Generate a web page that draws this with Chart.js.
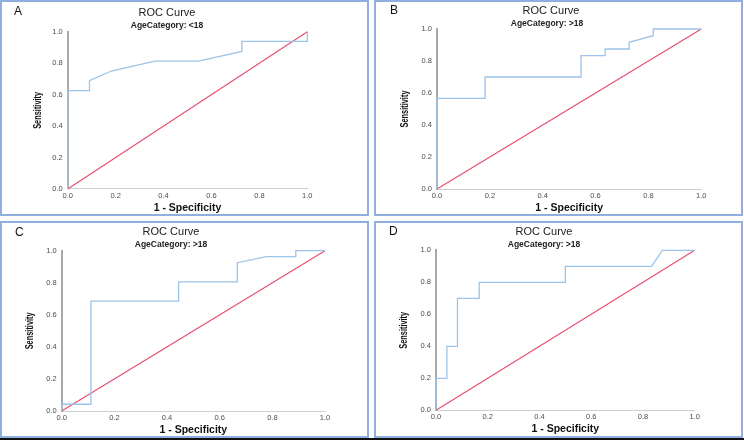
<!DOCTYPE html>
<html>
<head>
<meta charset="utf-8">
<script src="https://cdn.jsdelivr.net/npm/chart.js@4.4.1/dist/chart.umd.min.js"></script>
<style>
  body { margin: 0; background: #fff; }
  #page { position: relative; width: 744px; height: 440px; overflow: hidden; }
  .panel { position: absolute; box-sizing: border-box; border: 2px solid #8fb0df; }
  canvas { position: absolute; }
  #baseline { position: absolute; left: 0; top: 438px; width: 744px; height: 2px; background: #111; }
</style>
</head>
<body>
<div id="page">
  <div class="panel" style="left:0;top:0;width:369px;height:216px"></div>
  <div class="panel" style="left:374px;top:0;width:369px;height:216px"></div>
  <div class="panel" style="left:0;top:221px;width:369px;height:217px"></div>
  <div class="panel" style="left:374px;top:221px;width:369px;height:217px"></div>
  <div id="baseline"></div>
  <canvas id="chartA"></canvas>
  <canvas id="chartB"></canvas>
  <canvas id="chartC"></canvas>
  <canvas id="chartD"></canvas>
</div>
<script>
// ROC points (1 - specificity, sensitivity)
const fprA = [0, 0, 0.091, 0.091, 0.182, 0.364, 0.545, 0.727, 0.727, 1, 1];
const tprA = [0, 0.625, 0.625, 0.688, 0.75, 0.813, 0.813, 0.875, 0.938, 0.938, 1];

const fprB = [0, 0, 0.182, 0.182, 0.545, 0.545, 0.636, 0.636, 0.727, 0.727, 0.818, 0.818, 1];
const tprB = [0, 0.567, 0.567, 0.70, 0.70, 0.833, 0.833, 0.875, 0.875, 0.917, 0.958, 1, 1];

const fprC = [0, 0, 0.111, 0.111, 0.444, 0.444, 0.667, 0.667, 0.778, 0.889, 0.889, 1];
const tprC = [0, 0.042, 0.042, 0.686, 0.686, 0.805, 0.805, 0.925, 0.963, 0.963, 1, 1];

const fprD = [0, 0, 0.042, 0.042, 0.083, 0.083, 0.167, 0.167, 0.5, 0.5, 0.833, 0.875, 1];
const tprD = [0, 0.2, 0.2, 0.4, 0.4, 0.7, 0.7, 0.8, 0.8, 0.9, 0.9, 1, 1];

// reference diagonal
const refX = [0, 1];
const refY = [0, 1];

const axisTicks = [0, 0.2, 0.4, 0.6, 0.8, 1.0];
const panelLetters = ['A', 'B', 'C', 'D'];
const chartTitle = 'ROC Curve';
const subTitles = ['AgeCategory: <18', 'AgeCategory: >18', 'AgeCategory: >18', 'AgeCategory: >18'];
const xTitle = '1 - Specificity';
const yTitle = 'Sensitivity';

const rocColor = '#9cc3e9';
const refColor = '#e8506f';
const FONT = "'Liberation Sans', Arial, sans-serif";

// page layout of each panel (box, plot area, text spots)
const layouts = [
  { box: [0, 0, 369, 216], plot: [67.7, 307.3, 31.7, 189], xTitleY: 208, yTitleX: 38.5,
    letter: [14, 12], title: [167, 13], sub: [167, 26] },
  { box: [374, 0, 369, 216], plot: [437, 701.3, 29, 189], xTitleY: 208, yTitleX: 405,
    letter: [390, 11], title: [551, 11], sub: [547, 24] },
  { box: [0, 221, 369, 217], plot: [61.7, 325, 250.7, 411], xTitleY: 430.5, yTitleX: 30,
    letter: [15, 233], title: [171, 232], sub: [171, 245] },
  { box: [374, 221, 369, 217], plot: [436, 694.7, 250.3, 410.3], xTitleY: 429.5, yTitleX: 404,
    letter: [389, 232], title: [544, 232], sub: [544, 245] }
];

const headerPlugin = {
  id: 'header',
  afterDraw(chart, args, opts) {
    const {ctx, chartArea} = chart;
    ctx.save();
    ctx.textBaseline = 'middle';
    ctx.fillStyle = '#111';
    ctx.textAlign = 'left';
    ctx.font = '12px ' + FONT;
    ctx.fillText(opts.letter, opts.letterPos[0], opts.letterPos[1]);
    ctx.textAlign = 'center';
    ctx.fillStyle = '#222';
    ctx.font = '11px ' + FONT;
    ctx.fillText(opts.title, opts.titlePos[0], opts.titlePos[1]);
    ctx.font = 'bold 8.5px ' + FONT;
    ctx.fillText(opts.sub, opts.subPos[0], opts.subPos[1]);

    // condensed, rotated y axis title
    ctx.fillStyle = '#111';
    ctx.font = 'bold 10.5px ' + FONT;
    const w = ctx.measureText(opts.yTitle).width;
    ctx.translate(opts.yTitleX, (chartArea.top + chartArea.bottom) / 2);
    ctx.rotate(-Math.PI / 2);
    ctx.scale(37 / w, 1);
    ctx.fillText(opts.yTitle, 0, 0);
    ctx.restore();
  }
};

function toPoints(xs, ys) {
  return xs.map((x, i) => ({ x: x, y: ys[i] }));
}

function makePanel(id, idx, fpr, tpr) {
  const L = layouts[idx];
  const [bx, by, bw, bh] = L.box;
  const [pl, pr, pt, pb] = L.plot;
  const canvas = document.getElementById(id);
  canvas.style.left = bx + 'px';
  canvas.style.top = by + 'px';
  canvas.style.width = bw + 'px';
  canvas.style.height = bh + 'px';
  canvas.width = bw;
  canvas.height = bh;

  const xTitleSize = 10.5;
  const padBottom = by + bh - L.xTitleY - xTitleSize * 1.2 / 2;
  const yAxisWidth = pl - bx;
  const xAxisHeight = by + bh - padBottom - pb;

  return new Chart(canvas.getContext('2d'), {
    type: 'scatter',
    data: {
      datasets: [
        {
          data: toPoints(fpr, tpr),
          showLine: true,
          borderColor: rocColor,
          borderWidth: 1.3,
          pointRadius: 0,
          tension: 0,
          clip: false
        },
        {
          data: toPoints(refX, refY),
          showLine: true,
          borderColor: refColor,
          borderWidth: 1.2,
          pointRadius: 0,
          clip: false
        }
      ]
    },
    options: {
      responsive: false,
      animation: false,
      events: [],
      layout: {
        padding: { left: 0, right: bx + bw - pr, top: pt - by, bottom: padBottom }
      },
      scales: {
        x: {
          type: 'linear',
          min: 0, max: 1,
          afterBuildTicks: s => { s.ticks = axisTicks.map(v => ({ value: v })); },
          afterFit: s => { s.height = xAxisHeight; },
          grid: { display: false, drawTicks: false },
          border: { display: true, color: '#cfcfcf', width: 1 },
          ticks: {
            padding: 2,
            maxRotation: 0,
            color: '#4d4d4d',
            font: { family: FONT, size: 7.5 },
            callback: v => v.toFixed(1)
          },
          title: {
            display: true,
            text: xTitle,
            color: '#111',
            padding: 0,
            font: { family: FONT, size: xTitleSize, weight: 'bold' }
          }
        },
        y: {
          type: 'linear',
          min: 0, max: 1,
          afterBuildTicks: s => { s.ticks = axisTicks.map(v => ({ value: v })); },
          afterFit: s => { s.width = yAxisWidth; },
          grid: { display: false, drawTicks: false },
          border: { display: true, color: '#a8a8a8', width: 2 },
          ticks: {
            padding: 5,
            color: '#4d4d4d',
            font: { family: FONT, size: 7.5 },
            callback: v => v.toFixed(1)
          },
          title: { display: false }
        }
      },
      plugins: {
        legend: { display: false },
        tooltip: { enabled: false },
        header: {
          letter: panelLetters[idx],
          title: chartTitle,
          sub: subTitles[idx],
          yTitle: yTitle,
          yTitleX: L.yTitleX - bx,
          letterPos: [L.letter[0] - bx, L.letter[1] - by],
          titlePos: [L.title[0] - bx, L.title[1] - by],
          subPos: [L.sub[0] - bx, L.sub[1] - by]
        }
      }
    },
    plugins: [headerPlugin]
  });
}

makePanel('chartA', 0, fprA, tprA);
makePanel('chartB', 1, fprB, tprB);
makePanel('chartC', 2, fprC, tprC);
makePanel('chartD', 3, fprD, tprD);
</script>
</body>
</html>
